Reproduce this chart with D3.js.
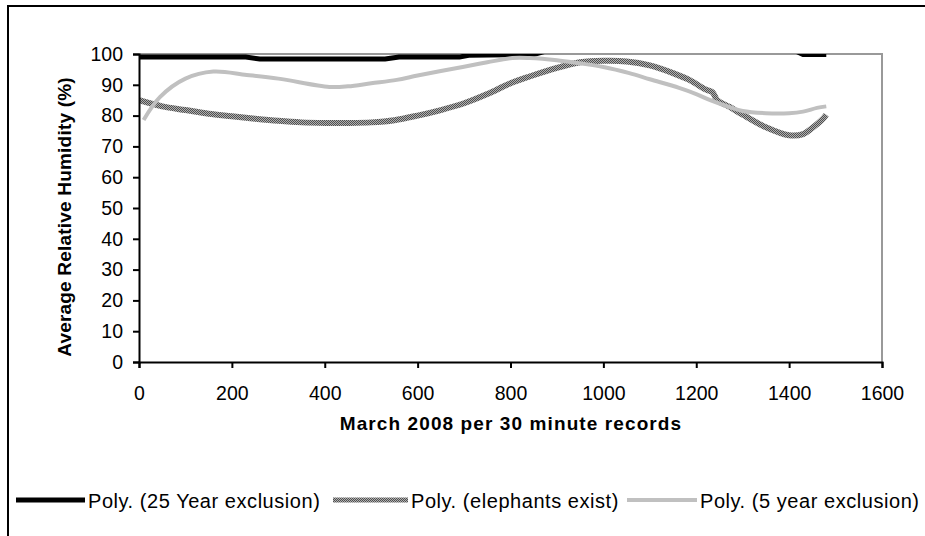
<!DOCTYPE html>
<html>
<head>
<meta charset="utf-8">
<script src="https://cdn.jsdelivr.net/npm/d3@7"></script>
<style>
  body { margin: 0; background: #fff; }
  svg { display: block; font-family: "Liberation Sans", Arial, sans-serif; }
</style>
</head>
<body>
<div class="graphics"></div>
<script>
// x = record number, y = average relative humidity (%)
var xTicks = [0, 200, 400, 600, 800, 1000, 1200, 1400, 1600];
var yTicks = [0, 10, 20, 30, 40, 50, 60, 70, 80, 90, 100];

var recs25 = [0, 230, 260, 530, 560, 690, 710, 850, 900, 1400, 1430, 1480];
var hum25  = [99, 99, 98.4, 98.4, 99, 99, 99.6, 99.8, 102, 102, 99.8, 99.8];

var recsEle = [0, 50, 100, 150, 200, 250, 300, 350, 400, 450, 500, 550, 600, 650, 700, 750, 800, 841, 900, 950, 1000, 1050, 1100, 1150, 1186, 1220, 1235, 1245, 1272, 1300, 1350, 1400, 1430, 1450, 1470, 1480];
var humEle  = [85, 83, 81.8, 80.6, 79.8, 79, 78.3, 77.8, 77.6, 77.6, 77.8, 78.5, 80, 81.8, 84, 87, 90.5, 92.7, 95.5, 97.3, 97.8, 97.6, 96.3, 93.8, 91.5, 88.5, 87.6, 85, 82.8, 80.3, 76.2, 73.6, 74, 76, 78.5, 80.3];

var recs5 = [10, 45, 100, 160, 232, 300, 410, 450, 500, 555, 600, 697, 750, 804, 841, 900, 948, 1000, 1056, 1100, 1163, 1200, 1230, 1271, 1300, 1350, 1400, 1430, 1460, 1480];
var hum5  = [78.6, 86, 92, 94.3, 93.2, 92, 89.3, 89.5, 90.5, 91.6, 93, 95.8, 97.3, 98.7, 98.7, 98, 97, 95.8, 93.8, 91.8, 89, 87, 85, 82.8, 81.5, 80.8, 80.8, 81.3, 82.5, 83];

var legendNames = ["Poly. (25 Year exclusion)", "Poly. (elephants exist)", "Poly. (5 year exclusion)"];

var W = 925, H = 536;
var svg = d3.select(".graphics").append("svg")
    .attr("width", W)
    .attr("height", H);

// checkered pattern for the "elephants exist" line
var defs = svg.append("defs");
var pat = defs.append("pattern")
    .attr("id", "checker")
    .attr("patternUnits", "userSpaceOnUse")
    .attr("width", 2).attr("height", 2);
pat.append("rect").attr("width", 2).attr("height", 2).attr("fill", "#b0b0b0");
pat.append("rect").attr("width", 1).attr("height", 1).attr("fill", "#505050");
pat.append("rect").attr("x", 1).attr("y", 1).attr("width", 1).attr("height", 1).attr("fill", "#505050");

defs.append("clipPath").attr("id", "plotclip")
  .append("rect").attr("x", 139).attr("y", 54).attr("width", 743).attr("height", 308);

// outer chart border
svg.append("rect")
    .attr("x", 8).attr("y", 6)
    .attr("width", 940).attr("height", 560)
    .attr("fill", "none")
    .attr("stroke", "#000")
    .attr("stroke-width", 2);

var x = d3.scaleLinear().domain([0, 1600]).range([139, 882]);
var y = d3.scaleLinear().domain([0, 100]).range([362, 54]);

// plot area border (top & right in grey)
svg.append("path")
    .attr("d", "M" + x(0) + "," + y(100) + "H" + x(1600) + "V" + y(0))
    .attr("fill", "none")
    .attr("stroke", "#999")
    .attr("stroke-width", 2);

var line = d3.line()
    .x(function(d) { return x(d[0]); })
    .y(function(d) { return y(d[1]); });

var lines = svg.append("g").attr("clip-path", "url(#plotclip)");

lines.append("path")
    .datum(d3.zip(recs25, hum25))
    .attr("d", line)
    .attr("fill", "none")
    .attr("stroke", "#000")
    .attr("stroke-width", 5);

lines.append("path")
    .datum(d3.zip(recsEle, humEle))
    .attr("d", line.curve(d3.curveCatmullRom))
    .attr("fill", "none")
    .attr("stroke", "url(#checker)")
    .attr("stroke-width", 6);

lines.append("path")
    .datum(d3.zip(recs5, hum5))
    .attr("d", line.curve(d3.curveCatmullRom))
    .attr("fill", "none")
    .attr("stroke", "#c0c0c0")
    .attr("stroke-width", 4);

// axes
var xAxis = svg.append("g")
    .attr("transform", "translate(0," + y(0) + ")")
    .call(d3.axisBottom(x).tickValues(xTicks).tickFormat(d3.format("d"))
        .tickSizeOuter(0).tickSize(6).tickPadding(18));
var yAxis = svg.append("g")
    .attr("transform", "translate(" + x(0) + ",0)")
    .call(d3.axisLeft(y).tickValues(yTicks).tickFormat(d3.format("d"))
        .tickSizeOuter(0).tickSize(6).tickPadding(10));

[xAxis, yAxis].forEach(function(a) {
    a.select(".domain").attr("stroke", "#000").attr("stroke-width", 2);
    a.selectAll(".tick line").attr("stroke", "#000").attr("stroke-width", 2);
    a.selectAll("text").attr("fill", "#000").style("font-size", "19.5px")
        .style("font-family", "Liberation Sans, Arial, sans-serif");
});

// axis titles
svg.append("text")
    .attr("x", 511).attr("y", 430)
    .attr("text-anchor", "middle")
    .style("font-size", "19px").style("font-weight", "bold")
    .style("letter-spacing", "1.1px")
    .text("March 2008 per 30 minute records");

svg.append("text")
    .attr("transform", "translate(71,217)rotate(-90)")
    .attr("text-anchor", "middle")
    .style("font-size", "19px").style("font-weight", "bold")
    .style("letter-spacing", "0.2px")
    .text("Average Relative Humidity (%)");

// legend
var legX = [16, 333, 627];
var legLen = [69, 75, 70];
var legStroke = ["#000", "url(#checker)", "#c0c0c0"];
var legWidth = [5, 5, 4];
var leg = svg.append("g");
legendNames.forEach(function(name, i) {
    leg.append("line")
        .attr("x1", legX[i]).attr("x2", legX[i] + legLen[i])
        .attr("y1", 500).attr("y2", 500)
        .attr("stroke", legStroke[i])
        .attr("stroke-width", legWidth[i]);
    leg.append("text")
        .attr("x", legX[i] + legLen[i] + 3)
        .attr("y", 508)
        .style("font-size", "20px")
        .style("letter-spacing", "0.55px")
        .text(name);
});
</script>
</body>
</html>
